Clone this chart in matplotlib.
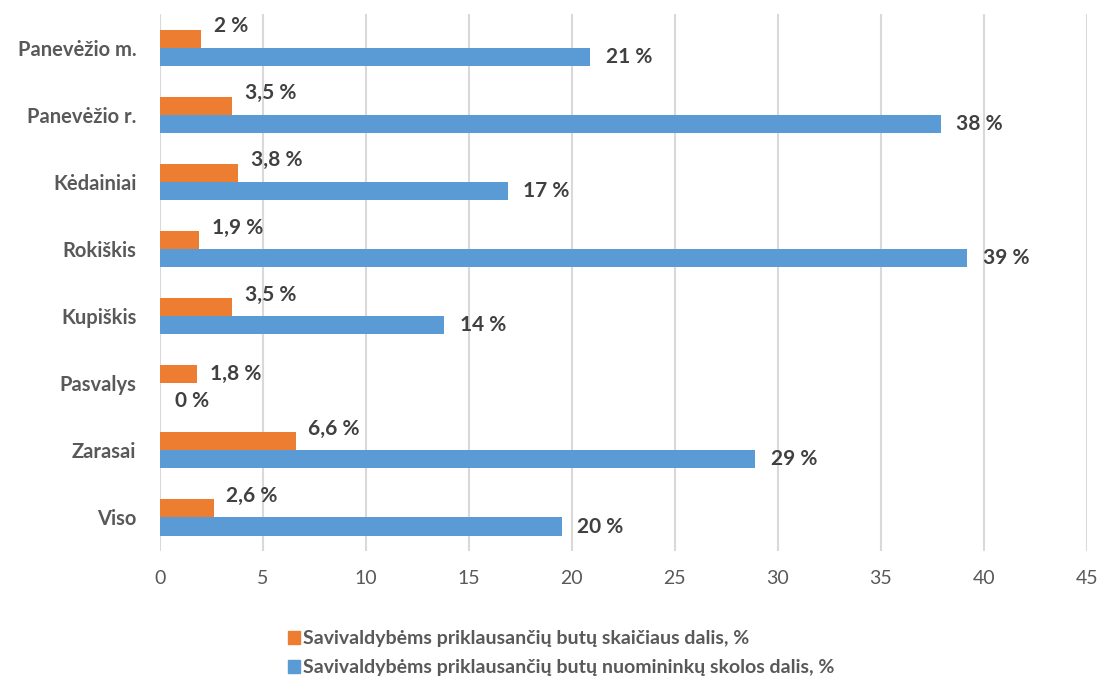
import numpy as np
import matplotlib.pyplot as plt
from matplotlib.patches import Patch

categories = ["Panevėžio m.", "Panevėžio r.", "Kėdainiai", "Rokiškis",
              "Kupiškis", "Pasvalys", "Zarasai", "Viso"]
share_count = [2.0, 3.5, 3.8, 1.9, 3.5, 1.8, 6.6, 2.6]
share_debt = [20.9, 37.9, 16.9, 39.2, 13.8, 0.0, 28.9, 19.5]
count_labels = ["2 %", "3,5 %", "3,8 %", "1,9 %", "3,5 %", "1,8 %", "6,6 %", "2,6 %"]
debt_labels = ["21 %", "38 %", "17 %", "39 %", "14 %", "0 %", "29 %", "20 %"]
series_names = ["Savivaldybėms priklausančių butų skaičiaus dalis, %",
                "Savivaldybėms priklausančių butų nuomininkų skolos dalis, %"]

orange = "#ed7d31"
blue = "#5b9bd5"
plt.rcParams['font.family'] = ['Lato', 'DejaVu Sans']

fig = plt.figure(figsize=(11, 6.79), dpi=100)
ax = fig.add_axes([0.1455, 0.1885, 0.8425, 0.7905])

y = np.arange(len(categories))
h = 0.27
ax.barh(y - h / 2, share_count, height=h, color=orange, zorder=3)
ax.barh(y + h / 2, share_debt, height=h, color=blue, zorder=3)

for i in range(len(categories)):
    dy = 9 if share_debt[i] > 0 else 0
    ax.annotate(count_labels[i], (share_count[i], y[i] - h / 2), xytext=(9, dy),
                textcoords="offset points", va="center", ha="left",
                fontsize=15, fontweight="bold", color="#404040")
    dy2 = 0 if share_debt[i] > 0 else -6
    ax.annotate(debt_labels[i], (share_debt[i], y[i] + h / 2), xytext=(11, dy2),
                textcoords="offset points", va="center", ha="left",
                fontsize=15, fontweight="bold", color="#404040")

ax.set_xlim(0, 45)
ax.set_ylim(len(categories) - 0.5, -0.5)
ax.set_xticks(np.arange(0, 46, 5))
ax.set_yticks(y)
ax.set_yticklabels(categories, fontsize=14.5, fontweight="bold", color="#595959")
ax.tick_params(axis="x", labelsize=14, labelcolor="#595959", length=0, pad=14)
ax.tick_params(axis="y", length=0, pad=17)
ax.grid(axis="x", color="#d9d9d9", linewidth=1.5, zorder=0)
for s in ax.spines.values():
    s.set_visible(False)

handles = [Patch(color=orange), Patch(color=blue)]
fig.legend(handles, series_names, loc="center", bbox_to_anchor=(0.51, 0.038),
           ncol=1, frameon=False, handlelength=0.65, handleheight=0.65,
           handletextpad=0.15, labelspacing=0.6,
           prop={"family": ["Lato", "DejaVu Sans"], "weight": "bold", "size": 14},
           labelcolor="#595959")

fig.savefig("out.png", dpi=100)
